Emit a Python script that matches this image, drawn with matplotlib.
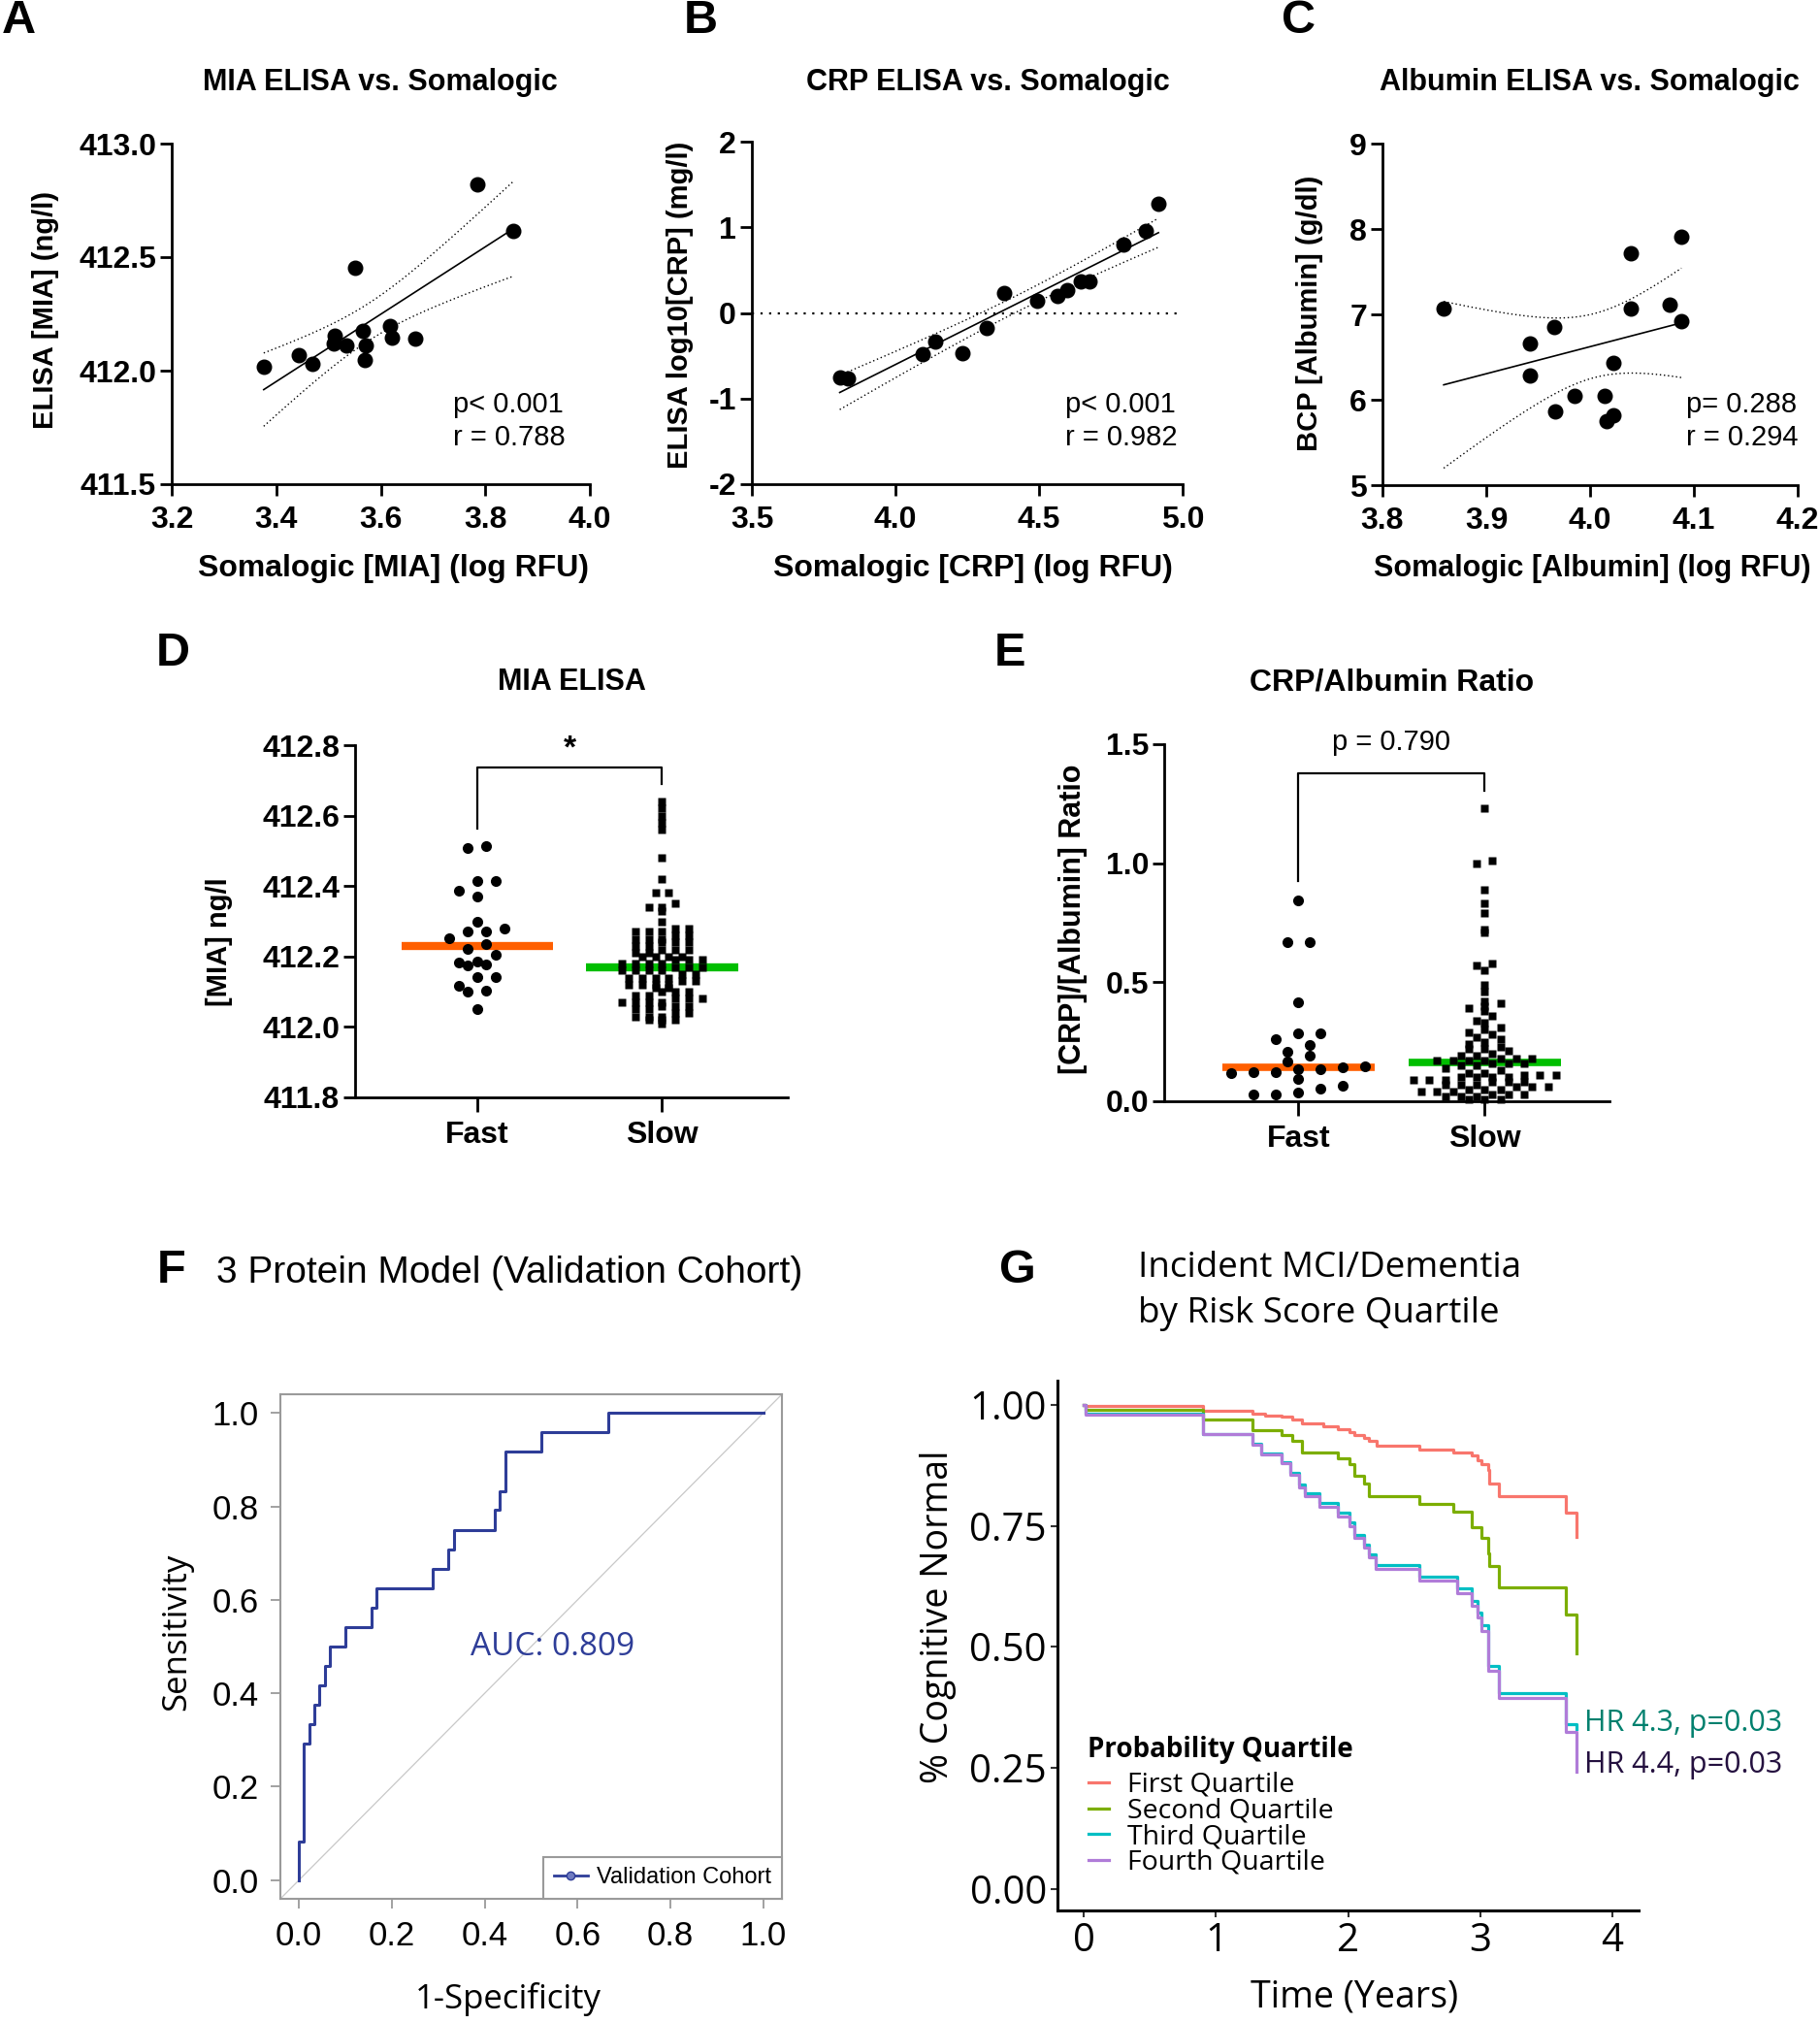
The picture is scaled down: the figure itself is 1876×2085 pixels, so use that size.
import numpy as np
import matplotlib
matplotlib.use("Agg")
import matplotlib.pyplot as plt
from matplotlib.lines import Line2D

plt.rcParams['font.family'] = ['Liberation Sans', 'DejaVu Sans']

# ---- data ----
mia_soma = [3.376, 3.444, 3.469, 3.512, 3.510, 3.535, 3.551, 3.565, 3.572, 3.569, 3.618, 3.622, 3.666, 3.785, 3.853]
mia_elisa = [412.019, 412.070, 412.029, 412.153, 412.119, 412.110, 412.455, 412.177, 412.112, 412.049,
             412.195, 412.145, 412.140, 412.819, 412.614]

crp_soma = [3.806, 3.835, 4.093, 4.138, 4.234, 4.319, 4.378, 4.493, 4.564, 4.597, 4.644, 4.674, 4.793, 4.870, 4.916]
crp_elisa = [-0.749, -0.767, -0.484, -0.336, -0.466, -0.179, 0.235, 0.144, 0.200, 0.266, 0.366, 0.366,
             0.802, 0.963, 1.277]

alb_soma = [3.859, 3.942, 3.942, 3.965, 3.966, 3.985, 4.014, 4.016, 4.022, 4.022, 4.039, 4.039, 4.077, 4.088, 4.088]
alb_bcp = [7.066, 6.659, 6.283, 6.850, 5.863, 6.040, 6.040, 5.752, 5.819, 6.434, 7.717, 7.066, 7.111, 6.920, 7.907]

groups = ["Fast", "Slow"]

mia_fast = [412.513, 412.509, 412.413, 412.415, 412.388, 412.369, 412.298, 412.270, 412.278, 412.270,
            412.253, 412.236, 412.222, 412.205, 412.182, 412.187, 412.175, 412.177, 412.141, 412.141,
            412.117, 412.102, 412.099, 412.052]
mia_slow = [412.64, 412.62, 412.60, 412.58, 412.56, 412.48, 412.42,
            412.38, 412.38,
            412.35, 412.34, 412.34, 412.33,
            412.30, 412.28, 412.28, 412.27,
            412.27, 412.27, 412.26, 412.26,
            412.25, 412.25, 412.25, 412.24, 412.24, 412.24,
            412.23, 412.23, 412.22, 412.22, 412.22,
            412.21, 412.21, 412.20, 412.20, 412.20, 412.20,
            412.19, 412.19, 412.19, 412.18, 412.18, 412.18, 412.18,
            412.17, 412.17, 412.17, 412.16, 412.16, 412.16, 412.16,
            412.15, 412.15, 412.14, 412.14, 412.14, 412.14,
            412.13, 412.13, 412.12, 412.12, 412.12, 412.12, 412.11,
            412.11, 412.10, 412.10, 412.10, 412.09, 412.09,
            412.08, 412.08, 412.08, 412.07, 412.07, 412.07, 412.07,
            412.06, 412.06, 412.06, 412.05, 412.05,
            412.04, 412.04, 412.03, 412.03, 412.03, 412.02, 412.02, 412.02, 412.01]

ratio_fast = [0.845, 0.670, 0.670, 0.415, 0.287, 0.287, 0.259, 0.237, 0.207, 0.190, 0.168, 0.146,
              0.136, 0.136, 0.143, 0.117, 0.124, 0.124, 0.095, 0.066, 0.052, 0.029, 0.036, 0.029]
ratio_slow = [1.23, 1.01, 1.00, 0.89, 0.83, 0.79, 0.72, 0.71, 0.58, 0.57, 0.55, 0.49, 0.46, 0.42, 0.41,
              0.40, 0.39, 0.38, 0.36, 0.34, 0.33, 0.31, 0.30, 0.29, 0.28, 0.27, 0.26, 0.25, 0.24, 0.23,
              0.22, 0.22, 0.21, 0.20, 0.19, 0.19, 0.18, 0.18, 0.18, 0.17, 0.17, 0.17, 0.17, 0.16, 0.16,
              0.16, 0.15, 0.15, 0.14, 0.13, 0.12, 0.12, 0.11, 0.11, 0.11, 0.10, 0.10, 0.10, 0.10,
              0.09, 0.09, 0.09, 0.08, 0.08, 0.08, 0.07, 0.07, 0.07, 0.06, 0.06, 0.06, 0.05, 0.05, 0.05,
              0.04, 0.04, 0.04, 0.03, 0.03, 0.03, 0.02, 0.02, 0.02, 0.01, 0.01, 0.01]

roc_fpr = [0, 0.011, 0.022, 0.033, 0.044, 0.056, 0.067, 0.100, 0.156, 0.167, 0.289, 0.322, 0.333,
           0.422, 0.433, 0.444, 0.522, 0.667, 1.0]
roc_tpr = [0, 0.083, 0.292, 0.333, 0.375, 0.417, 0.458, 0.500, 0.542, 0.583, 0.625, 0.667, 0.708,
           0.750, 0.792, 0.833, 0.917, 0.958, 1.0]

km_labels = ["First Quartile", "Second Quartile", "Third Quartile", "Fourth Quartile"]
km_colors = ["#F8766D", "#7CAE00", "#00BFC4", "#B07CD8"]
q1_t = [0, 0.01, 0.90, 1.28, 1.37, 1.50, 1.58, 1.65, 1.81, 1.92, 2.01, 2.05, 2.12, 2.16, 2.22, 2.54,
        2.80, 2.94, 2.98, 3.01, 3.06, 3.07, 3.14, 3.65, 3.73]
q1_s = [1.0, 0.997, 0.988, 0.982, 0.978, 0.975, 0.970, 0.962, 0.955, 0.950, 0.943, 0.937, 0.931, 0.925,
        0.915, 0.908, 0.901, 0.895, 0.886, 0.877, 0.866, 0.837, 0.811, 0.778, 0.728]
q2_t = [0, 0.01, 0.90, 1.28, 1.50, 1.58, 1.65, 1.92, 2.01, 2.05, 2.12, 2.16, 2.54, 2.80, 2.94, 3.01,
        3.06, 3.07, 3.14, 3.65, 3.73]
q2_s = [1.0, 0.990, 0.970, 0.948, 0.938, 0.925, 0.902, 0.889, 0.877, 0.853, 0.837, 0.811, 0.796, 0.780,
        0.747, 0.725, 0.694, 0.666, 0.622, 0.567, 0.487]
q34_t = [0, 0.01, 0.90, 1.28, 1.34, 1.50, 1.56, 1.63, 1.67, 1.78, 1.92, 2.01, 2.05, 2.12, 2.16, 2.21,
         2.54, 2.83, 2.94, 2.98, 3.01, 3.06, 3.14, 3.65, 3.73]
q3_s = [1.0, 0.982, 0.940, 0.920, 0.899, 0.882, 0.860, 0.835, 0.818, 0.797, 0.777, 0.757, 0.732, 0.712,
        0.692, 0.668, 0.645, 0.620, 0.595, 0.570, 0.545, 0.460, 0.405, 0.340, 0.330]
q4_s = [1.0, 0.980, 0.939, 0.918, 0.897, 0.879, 0.855, 0.830, 0.812, 0.790, 0.770, 0.750, 0.725, 0.705,
        0.685, 0.660, 0.636, 0.610, 0.585, 0.560, 0.532, 0.450, 0.394, 0.324, 0.241]

# ---- figure ----
W, H = 1876, 2085
fig = plt.figure(figsize=(W / 100, H / 100), dpi=100)


def add_ax(l, t, r, b):
    return fig.add_axes([l / W, 1 - b / H, (r - l) / W, (b - t) / H])


def ftext(x, y, s, **kw):
    fig.text(x / W, 1 - y / H, s, **kw)


def font_ticks(ax, size, weight="normal", family="Liberation Sans"):
    for lab in ax.get_xticklabels() + ax.get_yticklabels():
        lab.set_fontsize(size)
        lab.set_fontweight(weight)
        lab.set_family(family)


def prism_axes(ax):
    for s in ["top", "right"]:
        ax.spines[s].set_visible(False)
    for s in ["left", "bottom"]:
        ax.spines[s].set_linewidth(2.0)
    ax.tick_params(direction="out", length=8.5, width=2.0)


def corr_panel(ax, xv, yv, xlim, ylim, xticks, yticks, xfmt, yfmt, tcrit=2.160):
    x = np.array(xv)
    y = np.array(yv)
    n = len(x)
    slope, icpt = np.polyfit(x, y, 1)
    xs = np.linspace(x.min(), x.max(), 200)
    yh = icpt + slope * xs
    s = np.sqrt(np.sum((y - (icpt + slope * x)) ** 2) / (n - 2))
    se = s * np.sqrt(1 / n + (xs - x.mean()) ** 2 / np.sum((x - x.mean()) ** 2))
    ax.plot(xs, yh, color="black", lw=1.2)
    ax.plot(xs, yh + tcrit * se, color="black", lw=1.0, ls=(0, (1, 2)))
    ax.plot(xs, yh - tcrit * se, color="black", lw=1.0, ls=(0, (1, 2)))
    ax.plot(x, y, "o", color="black", ms=10.5, clip_on=False, zorder=5)
    ax.set_xlim(*xlim)
    ax.set_ylim(*ylim)
    ax.set_xticks(xticks, [xfmt.format(v) for v in xticks])
    ax.set_yticks(yticks, [yfmt.format(v) for v in yticks])
    prism_axes(ax)
    ax.tick_params(axis="y", pad=3)
    ax.tick_params(axis="x", pad=7)
    font_ticks(ax, 23, "bold")


# Panel A
axA = add_ax(177, 148, 608, 499)
corr_panel(axA, mia_soma, mia_elisa, (3.2, 4.0), (411.5, 413.0),
           [3.2, 3.4, 3.6, 3.8, 4.0], [411.5, 412.0, 412.5, 413.0], "{:.1f}", "{:.1f}")
# Panel B
axB = add_ax(775, 146, 1219, 499)
axB.axhline(0, color="black", lw=1.6, ls=(0, (1, 3)))
corr_panel(axB, crp_soma, crp_elisa, (3.5, 5.0), (-2, 2),
           [3.5, 4.0, 4.5, 5.0], [-2, -1, 0, 1, 2], "{:.1f}", "{:d}")
# Panel C
axC = add_ax(1425, 148, 1853, 500)
corr_panel(axC, alb_soma, alb_bcp, (3.8, 4.2), (5, 9),
           [3.8, 3.9, 4.0, 4.1, 4.2], [5, 6, 7, 8, 9], "{:.1f}", "{:d}")

bold = dict(fontweight="bold", ha="center", va="center")
ftext(392, 85, "MIA ELISA vs. Somalogic", fontsize=22, **bold)
ftext(1018, 85, "CRP ELISA vs. Somalogic", fontsize=22, **bold)
ftext(1638, 85, "Albumin ELISA vs. Somalogic", fontsize=22, **bold)
ftext(406, 586, "Somalogic [MIA] (log RFU)", fontsize=23, **bold)
ftext(1003, 586, "Somalogic [CRP] (log RFU)", fontsize=23, **bold)
ftext(1641, 586, "Somalogic [Albumin] (log RFU)", fontsize=22, **bold)
ftext(47, 319, "ELISA [MIA] (ng/l)", fontsize=21, rotation=90, **bold)
ftext(701, 314, "ELISA log10[CRP] (mg/l)", fontsize=21, rotation=90, **bold)
ftext(1350, 323, "BCP [Albumin] (g/dl)", fontsize=21, rotation=90, **bold)
for x0, p_s, r_s in [(467, "p< 0.001", "r = 0.788"), (1098, "p< 0.001", "r = 0.982"),
                     (1738, "p= 0.288", "r = 0.294")]:
    ftext(x0, 417, p_s, fontsize=21, va="center")
    ftext(x0, 451, r_s, fontsize=21, va="center")


# ---- dot plots D / E ----
def swarm(ax, vals, center, bin_h, dx, marker, ms, med_color, med_lw):
    v = np.asarray(vals, float)
    keys = np.round(v / bin_h).astype(int)
    xs = np.full(len(v), float(center))
    for k in np.unique(keys):
        idx = np.where(keys == k)[0]
        idx = idx[np.argsort(v[idx])]
        m = len(idx)
        xs[idx] = center + (np.arange(m) - (m - 1) / 2) * dx
    med = np.median(v)
    ax.plot([center - 0.41, center + 0.41], [med, med], color=med_color, lw=med_lw,
            solid_capstyle="butt", zorder=2)
    ax.plot(xs, v, linestyle="none", marker=marker, ms=ms, color="black", mec="none",
            clip_on=False, zorder=3)


axD = add_ax(366, 768, 812, 1131)
swarm(axD, mia_fast, 0, 0.035, 0.1, "o", 8, "#FF5F00", 6)
swarm(axD, mia_slow, 1, 0.018, 0.072, "s", 5.5, "#00BE00", 6)
axD.set_xlim(-0.66, 1.68)
axD.set_ylim(411.8, 412.8)
axD.set_yticks(np.arange(411.8, 412.81, 0.2), ["411.8", "412.0", "412.2", "412.4", "412.6", "412.8"])
axD.set_xticks([0, 1], groups)
prism_axes(axD)
axD.tick_params(axis="y", pad=3)
axD.tick_params(axis="x", pad=6, length=11)
font_ticks(axD, 23, "bold")
axD.plot([0, 0, 1, 1], [412.562, 412.736, 412.736, 412.69], color="black", lw=1.6, clip_on=False)
axD.text(0.5, 412.79, "*", ha="center", va="center", fontsize=24, fontweight="bold")

axE = add_ax(1200, 767, 1659, 1135)
swarm(axE, ratio_fast, 0, 0.045, 0.12, "o", 8, "#FF5F00", 5.5)
swarm(axE, ratio_slow, 1, 0.025, 0.085, "s", 5.5, "#00BE00", 5.5)
axE.set_xlim(-0.72, 1.67)
axE.set_ylim(0, 1.5)
axE.set_yticks([0, 0.5, 1.0, 1.5], ["0.0", "0.5", "1.0", "1.5"])
axE.set_xticks([0, 1], groups)
prism_axes(axE)
axE.tick_params(axis="y", pad=3)
axE.tick_params(axis="x", pad=6, length=11)
font_ticks(axE, 23, "bold")
axE.plot([0, 0, 1, 1], [0.925, 1.376, 1.376, 1.303], color="black", lw=1.6, clip_on=False)
axE.text(0.5, 1.508, "p = 0.790", ha="center", va="center", fontsize=21)

ftext(589, 703, "MIA ELISA", fontsize=22, **bold)
ftext(1435, 703, "CRP/Albumin Ratio", fontsize=23, **bold)
ftext(226, 971, "[MIA] ng/l", fontsize=21, rotation=90, **bold)
ftext(1106, 947, "[CRP]/[Albumin] Ratio", fontsize=22, rotation=90, **bold)

# ---- F: ROC ----
blue = "#2E3D98"
axF = add_ax(289, 1437, 806, 1957)
axF.plot([0, 1], [0, 1], transform=axF.transAxes, color="#C8C8C8", lw=0.9)
axF.plot(roc_fpr, roc_tpr, drawstyle="steps-pre", color=blue, lw=2.2)
axF.set_xlim(-0.04, 1.04)
axF.set_ylim(-0.04, 1.04)
ticksF = [0, 0.2, 0.4, 0.6, 0.8, 1.0]
axF.set_xticks(ticksF, ["{:.1f}".format(v) for v in ticksF])
axF.set_yticks(ticksF, ["{:.1f}".format(v) for v in ticksF])
for s in axF.spines.values():
    s.set_color("#9A9A9A")
    s.set_linewidth(1.5)
axF.tick_params(direction="out", length=7, width=1.3, color="#9A9A9A", pad=9)
font_ticks(axF, 25)
axF.text(0.547, 0.498, "AUC: 0.809", color=blue, fontsize=24, family="Open Sans",
         ha="center", va="center")
proxy = Line2D([], [], color=blue, lw=2, marker="o", ms=6, mfc="#6F7BC0", mec=blue)
legF = axF.legend(handles=[proxy], labels=["Validation Cohort"], loc="lower right",
                  borderaxespad=0, fancybox=False, edgecolor="#9A9A9A", framealpha=1,
                  prop={"family": "Liberation Sans", "size": 17}, handlelength=1.5,
                  borderpad=0.45, handletextpad=0.4)
legF.get_frame().set_linewidth(1.5)
ftext(223, 1312, "3 Protein Model (Validation Cohort)", fontsize=28, va="center")
ftext(524, 2061, "1-Specificity", fontsize=25, family="Open Sans", ha="center", va="center")
ftext(182, 1682, "Sensitivity", fontsize=25, family="Open Sans", rotation=90, ha="center", va="center")

# ---- G: Kaplan-Meier ----
axG = add_ax(1090, 1423, 1689, 1969)
lines = []
for t, s, c, lab in [(q1_t, q1_s, km_colors[0], km_labels[0]), (q2_t, q2_s, km_colors[1], km_labels[1]),
                     (q34_t, q3_s, km_colors[2], km_labels[2]), (q34_t, q4_s, km_colors[3], km_labels[3])]:
    ln, = axG.step(t, s, where="post", color=c, lw=2.3, label=lab)
    lines.append(ln)
axG.set_xlim(-0.2, 4.2)
axG.set_ylim(-0.045, 1.05)
axG.set_xticks([0, 1, 2, 3, 4], ["0", "1", "2", "3", "4"])
axG.set_yticks([0, 0.25, 0.5, 0.75, 1.0], ["0.00", "0.25", "0.50", "0.75", "1.00"])
for s in ["top", "right"]:
    axG.spines[s].set_visible(False)
for s in ["left", "bottom"]:
    axG.spines[s].set_linewidth(2.2)
axG.tick_params(direction="out", length=5, width=1.5, color="#333333", pad=3)
font_ticks(axG, 29, family="Open Sans")
axG.text(0.052, 0.304, "Probability Quartile", transform=axG.transAxes, family="Open Sans",
         fontweight="bold", fontsize=20, va="center", ha="left")
legG = axG.legend(handles=lines, loc="upper left", bbox_to_anchor=(0.053, 0.262), frameon=False,
                  prop={"family": "Open Sans", "size": 20.5},
                  handlelength=0.75, handletextpad=0.65, labelspacing=-0.05, borderpad=0,
                  borderaxespad=0)
axG.text(3.79, 0.343, "HR 4.3, p=0.03", color="#00806E", fontsize=22, family="Open Sans",
         va="center", clip_on=False)
axG.text(3.79, 0.255, "HR 4.4, p=0.03", color="#24103F", fontsize=22, family="Open Sans",
         va="center", clip_on=False)
ftext(1173, 1307, "Incident MCI/Dementia", fontsize=26.5, family="Open Sans", va="center")
ftext(1173, 1354, "by Risk Score Quartile", fontsize=26.5, family="Open Sans", va="center")
ftext(967, 1666, "% Cognitive Normal", fontsize=27, family="Open Sans", rotation=90, ha="center", va="center")
ftext(1396, 2058, "Time (Years)", fontsize=27, family="Open Sans", ha="center", va="center")

# panel letters
for x0, y0, s in [(19, 22, "A"), (722, 22, "B"), (1338, 22, "C"), (178, 673, "D"), (1041, 673, "E"),
                  (177, 1310, "F"), (1049, 1310, "G")]:
    ftext(x0, y0, s, fontsize=35, **bold)

fig.savefig("out.png", dpi=100)
